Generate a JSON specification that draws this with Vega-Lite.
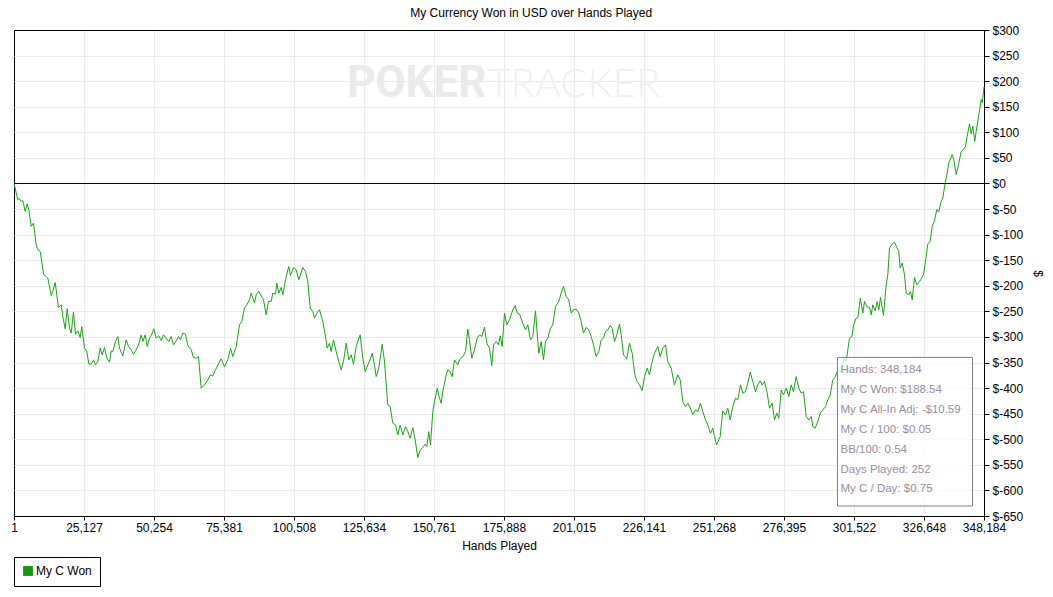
{
  "$schema": "https://vega.github.io/schema/vega-lite/v6.json",
  "width": 970,
  "height": 486,
  "autosize": {"type": "none"},
  "padding": {"left": 14, "top": 30, "right": 69, "bottom": 81},
  "background": "white",
  "title": {
    "text": "My Currency Won in USD over Hands Played",
    "font": "Liberation Sans",
    "fontSize": 12,
    "fontWeight": "normal",
    "color": "#000000",
    "anchor": "middle",
    "frame": "bounds",
    "offset": 4,
    "dx": 4
  },
  "layer": [
    {
      "data": {"values": [
        {"hands":1,"won":0},{"hands":1364,"won":-31.7},{"hands":1974,"won":-29.7},{"hands":2584,"won":-35.0},{"hands":3159,"won":-33.7},{"hands":4020,"won":-54.6},{"hands":4738,"won":-40.1},{"hands":5312,"won":-51.3},{"hands":6174,"won":-83.9},{"hands":7000,"won":-77.3},
        {"hands":7969,"won":-119.8},{"hands":8543,"won":-129.5},{"hands":9405,"won":-132.9},{"hands":10122,"won":-158.9},{"hands":10697,"won":-178.5},{"hands":11558,"won":-181.8},{"hands":12133,"won":-184.9},{"hands":13353,"won":-219.0},{"hands":13927,"won":-211.1},{"hands":14789,"won":-193.5},
        {"hands":15973,"won":-242.4},{"hands":16942,"won":-237.2},{"hands":17517,"won":-260.0},{"hands":18378,"won":-284.1},{"hands":19096,"won":-245.0},{"hands":19922,"won":-282.7},{"hands":20532,"won":-292.5},{"hands":21358,"won":-251.4},{"hands":22075,"won":-294.5},{"hands":22901,"won":-288.0},
        {"hands":23763,"won":-301.1},{"hands":24337,"won":-279.6},{"hands":25306,"won":-321.9},{"hands":26132,"won":-328.5},{"hands":26850,"won":-352.6},{"hands":27711,"won":-353.2},{"hands":28537,"won":-344.8},{"hands":29254,"won":-354.6},{"hands":30080,"won":-348.1},{"hands":30942,"won":-321.9},
        {"hands":31659,"won":-335.0},{"hands":32486,"won":-320.7},{"hands":33311,"won":-341.4},{"hands":34280,"won":-349.3},{"hands":34890,"won":-327.2},{"hands":35464,"won":-328.5},{"hands":36433,"won":-309.0},{"hands":37259,"won":-299.2},{"hands":37869,"won":-321.9},{"hands":39054,"won":-336.9},
        {"hands":40274,"won":-305.6},{"hands":41100,"won":-318.7},{"hands":42069,"won":-325.2},{"hands":42895,"won":-333.6},{"hands":43864,"won":-325.2},{"hands":44689,"won":-315.4},{"hands":45658,"won":-295.9},{"hands":46233,"won":-309.0},{"hands":47094,"won":-295.9},{"hands":47812,"won":-318.7},
        {"hands":48638,"won":-302.3},{"hands":49463,"won":-294.5},{"hands":50181,"won":-284.1},{"hands":51043,"won":-302.3},{"hands":51976,"won":-297.8},{"hands":52837,"won":-307.0},{"hands":53663,"won":-295.9},{"hands":54632,"won":-302.3},{"hands":55565,"won":-309.0},{"hands":56427,"won":-299.2},
        {"hands":57253,"won":-315.4},{"hands":58222,"won":-307.6},{"hands":59047,"won":-299.2},{"hands":59765,"won":-305.6},{"hands":60591,"won":-292.5},{"hands":61560,"won":-294.5},{"hands":62385,"won":-316.8},{"hands":63606,"won":-325.2},{"hands":64432,"won":-340.3},{"hands":65401,"won":-341.4},
        {"hands":66228,"won":-338.3},{"hands":67195,"won":-400.2},{"hands":68380,"won":-393.7},{"hands":69565,"won":-383.9},{"hands":70534,"won":-374.1},{"hands":71359,"won":-376.1},{"hands":72328,"won":-364.3},{"hands":73513,"won":-351.2},{"hands":74374,"won":-342.8},{"hands":75558,"won":-357.9},
        {"hands":76744,"won":-344.8},{"hands":77713,"won":-321.9},{"hands":78538,"won":-338.3},{"hands":79759,"won":-318.7},{"hands":80943,"won":-276.3},{"hands":81769,"won":-269.8},{"hands":82738,"won":-243.6},{"hands":83564,"won":-237.2},{"hands":84533,"won":-227.4},{"hands":85143,"won":-214.3},
        {"hands":86328,"won":-233.8},{"hands":86938,"won":-217.6},{"hands":87871,"won":-211.1},{"hands":89558,"won":-227.4},{"hands":90527,"won":-256.7},{"hands":91352,"won":-230.7},{"hands":92322,"won":-230.7},{"hands":92896,"won":-214.3},{"hands":93865,"won":-216.2},{"hands":94332,"won":-194.7},
        {"hands":95050,"won":-214.3},{"hands":95911,"won":-203.3},{"hands":96486,"won":-217.6},{"hands":97706,"won":-181.8},{"hands":98640,"won":-162.2},{"hands":99250,"won":-179.8},{"hands":100326,"won":-164.2},{"hands":101296,"won":-168.7},{"hands":102229,"won":-188.2},{"hands":103665,"won":-164.2},
        {"hands":104633,"won":-172.0},{"hands":105459,"won":-191.6},{"hands":106321,"won":-243.6},{"hands":107254,"won":-250.3},{"hands":107865,"won":-263.2},{"hands":108690,"won":-253.4},{"hands":109659,"won":-246.9},{"hands":110843,"won":-269.8},{"hands":111707,"won":-295.9},{"hands":112425,"won":-321.9},
        {"hands":113250,"won":-312.1},{"hands":113861,"won":-328.5},{"hands":114683,"won":-305.6},{"hands":115654,"won":-328.5},{"hands":116587,"won":-348.1},{"hands":117452,"won":-364.3},{"hands":118273,"won":-348.1},{"hands":119243,"won":-312.1},{"hands":120175,"won":-344.8},{"hands":121038,"won":-335.0},
        {"hands":121865,"won":-353.2},{"hands":122833,"won":-318.7},{"hands":123407,"won":-309.0},{"hands":124269,"won":-295.9},{"hands":125202,"won":-341.4},{"hands":126064,"won":-367.7},{"hands":126996,"won":-354.6},{"hands":127604,"won":-348.1},{"hands":128576,"won":-331.7},{"hands":129402,"won":-354.6},
        {"hands":130012,"won":-377.4},{"hands":130945,"won":-361.0},{"hands":132166,"won":-314.1},{"hands":132990,"won":-348.1},{"hands":134175,"won":-432.8},{"hands":135037,"won":-436.2},{"hands":135970,"won":-468.6},{"hands":136943,"won":-472.0},{"hands":137765,"won":-491.5},{"hands":138627,"won":-472.0},
        {"hands":139560,"won":-491.5},{"hands":140529,"won":-475.3},{"hands":141355,"won":-485.1},{"hands":142216,"won":-498.0},{"hands":143149,"won":-477.2},{"hands":144011,"won":-501.3},{"hands":144944,"won":-535.9},{"hands":145805,"won":-520.9},{"hands":146739,"won":-516.4},{"hands":147600,"won":-509.7},
        {"hands":148174,"won":-514.4},{"hands":148891,"won":-485.1},{"hands":149506,"won":-511.1},{"hands":150326,"won":-445.9},{"hands":150939,"won":-426.4},{"hands":151907,"won":-400.2},{"hands":152733,"won":-419.7},{"hands":153343,"won":-429.5},{"hands":153918,"won":-406.8},{"hands":155138,"won":-374.1},
        {"hands":155711,"won":-364.3},{"hands":156574,"won":-367.7},{"hands":157292,"won":-377.4},{"hands":158117,"won":-344.8},{"hands":159302,"won":-354.6},{"hands":159912,"won":-344.8},{"hands":161097,"won":-338.3},{"hands":162066,"won":-328.5},{"hands":162892,"won":-284.7},{"hands":163502,"won":-305.6},
        {"hands":164328,"won":-341.4},{"hands":165296,"won":-325.2},{"hands":166266,"won":-302.3},{"hands":167093,"won":-295.9},{"hands":167917,"won":-299.2},{"hands":168886,"won":-280.8},{"hands":169714,"won":-312.1},{"hands":170681,"won":-321.9},{"hands":171507,"won":-355.9},{"hands":172120,"won":-315.4},
        {"hands":173088,"won":-309.0},{"hands":173913,"won":-315.4},{"hands":174525,"won":-297.8},{"hands":175243,"won":-318.7},{"hands":176062,"won":-253.4},{"hands":176890,"won":-276.3},{"hands":177858,"won":-266.5},{"hands":179046,"won":-246.9},{"hands":179906,"won":-238.5},{"hands":180622,"won":-253.4},
        {"hands":181449,"won":-255.3},{"hands":182634,"won":-273.0},{"hands":183603,"won":-286.1},{"hands":184430,"won":-276.3},{"hands":185397,"won":-305.6},{"hands":186224,"won":-299.2},{"hands":187192,"won":-248.9},{"hands":188018,"won":-309.0},{"hands":188377,"won":-331.7},{"hands":189238,"won":-309.0},
        {"hands":190066,"won":-344.8},{"hands":190785,"won":-309.0},{"hands":191610,"won":-302.3},{"hands":192580,"won":-282.7},{"hands":193404,"won":-276.3},{"hands":194373,"won":-240.5},{"hands":195560,"won":-230.7},{"hands":196420,"won":-214.3},{"hands":197239,"won":-201.3},{"hands":198213,"won":-220.9},
        {"hands":199146,"won":-227.4},{"hands":200007,"won":-253.4},{"hands":200834,"won":-246.9},{"hands":201802,"won":-245.6},{"hands":202735,"won":-253.4},{"hands":203597,"won":-269.8},{"hands":204423,"won":-292.5},{"hands":205391,"won":-281.6},{"hands":206326,"won":-286.1},{"hands":207188,"won":-299.2},
        {"hands":208014,"won":-315.4},{"hands":208982,"won":-338.3},{"hands":209915,"won":-328.5},{"hands":210776,"won":-305.6},{"hands":211602,"won":-302.3},{"hands":212320,"won":-289.4},{"hands":213145,"won":-286.1},{"hands":214008,"won":-277.7},{"hands":214724,"won":-282.7},{"hands":215550,"won":-309.0},
        {"hands":216378,"won":-295.9},{"hands":217344,"won":-274.9},{"hands":217953,"won":-295.9},{"hands":218775,"won":-335.0},{"hands":219966,"won":-342.8},{"hands":220934,"won":-312.1},{"hands":221901,"won":-331.7},{"hands":222733,"won":-370.8},{"hands":223553,"won":-385.9},{"hands":224524,"won":-393.7},
        {"hands":225494,"won":-404.8},{"hands":226322,"won":-377.4},{"hands":227287,"won":-361.0},{"hands":228113,"won":-374.1},{"hands":228945,"won":-351.2},{"hands":229905,"won":-331.7},{"hands":231088,"won":-318.7},{"hands":231958,"won":-338.3},{"hands":232887,"won":-321.9},{"hands":233858,"won":-315.4},
        {"hands":234678,"won":-348.1},{"hands":235908,"won":-361.0},{"hands":237086,"won":-393.7},{"hands":238272,"won":-374.1},{"hands":239133,"won":-383.9},{"hands":240066,"won":-426.4},{"hands":241034,"won":-436.2},{"hands":241860,"won":-429.5},{"hands":242723,"won":-438.1},{"hands":243660,"won":-452.4},
        {"hands":244625,"won":-442.6},{"hands":245445,"won":-445.9},{"hands":246418,"won":-429.5},{"hands":247244,"won":-445.9},{"hands":248213,"won":-462.2},{"hands":249037,"won":-472.0},{"hands":250003,"won":-488.2},{"hands":250831,"won":-478.4},{"hands":251446,"won":-494.8},{"hands":252209,"won":-511.1},
        {"hands":253487,"won":-494.8},{"hands":254413,"won":-444.6},{"hands":255393,"won":-452.4},{"hands":256215,"won":-439.3},{"hands":257079,"won":-462.2},{"hands":258012,"won":-436.2},{"hands":258982,"won":-419.7},{"hands":259800,"won":-423.0},{"hands":260786,"won":-393.7},{"hands":261607,"won":-409.9},
        {"hands":262578,"won":-406.8},{"hands":263396,"won":-390.4},{"hands":264268,"won":-368.8},{"hands":265206,"won":-387.2},{"hands":266162,"won":-406.8},{"hands":266986,"won":-393.7},{"hands":267838,"won":-385.9},{"hands":268565,"won":-393.7},{"hands":269406,"won":-387.2},{"hands":270366,"won":-409.9},
        {"hands":271193,"won":-439.3},{"hands":272158,"won":-429.5},{"hands":272983,"won":-462.2},{"hands":273814,"won":-449.1},{"hands":274531,"won":-458.9},{"hands":275389,"won":-403.5},{"hands":276208,"won":-413.3},{"hands":277187,"won":-400.2},{"hands":278116,"won":-416.6},{"hands":278972,"won":-393.7},
        {"hands":279799,"won":-406.8},{"hands":280767,"won":-377.4},{"hands":281706,"won":-400.2},{"hands":282566,"won":-409.9},{"hands":283386,"won":-406.8},{"hands":284364,"won":-455.7},{"hands":285289,"won":-462.2},{"hands":286166,"won":-455.7},{"hands":286759,"won":-475.3},{"hands":287586,"won":-478.4},
        {"hands":288523,"won":-465.5},{"hands":289386,"won":-449.1},{"hands":290324,"won":-442.6},{"hands":291286,"won":-436.2},{"hands":292121,"won":-423.0},{"hands":292978,"won":-413.3},{"hands":293909,"won":-383.9},{"hands":294880,"won":-377.4},{"hands":295711,"won":-364.3},{"hands":296560,"won":-368.8},
        {"hands":297486,"won":-354.6},{"hands":298111,"won":-340.3},{"hands":298723,"won":-348.1},{"hands":299904,"won":-302.3},{"hands":300763,"won":-299.2},{"hands":301481,"won":-274.9},{"hands":302302,"won":-263.2},{"hands":302897,"won":-262.0},{"hands":303782,"won":-224.0},{"hands":304673,"won":-253.4},
        {"hands":305289,"won":-230.7},{"hands":306115,"won":-240.5},{"hands":307087,"won":-242.4},{"hands":307698,"won":-256.7},{"hands":308266,"won":-237.2},{"hands":309128,"won":-248.9},{"hands":309846,"won":-230.7},{"hands":310421,"won":-246.9},{"hands":311027,"won":-222.9},{"hands":312107,"won":-258.1},
        {"hands":313078,"won":-198.0},{"hands":313655,"won":-178.5},{"hands":314262,"won":-126.2},{"hands":315238,"won":-118.4},{"hands":316063,"won":-114.5},{"hands":316881,"won":-125.0},{"hands":317599,"won":-132.9},{"hands":318103,"won":-165.3},{"hands":318821,"won":-155.6},{"hands":319650,"won":-178.5},
        {"hands":320255,"won":-214.3},{"hands":321201,"won":-217.6},{"hands":321800,"won":-211.1},{"hands":322414,"won":-227.4},{"hands":323233,"won":-183.7},{"hands":324062,"won":-198.0},{"hands":325027,"won":-191.6},{"hands":325852,"won":-184.9},{"hands":326466,"won":-178.5},{"hands":327181,"won":-152.4},
        {"hands":328010,"won":-118.4},{"hands":328867,"won":-113.3},{"hands":329587,"won":-83.9},{"hands":330415,"won":-72.8},{"hands":331233,"won":-51.3},{"hands":331958,"won":-55.8},{"hands":332816,"won":-35.0},{"hands":333392,"won":-28.4},{"hands":334262,"won":1.0},{"hands":334989,"won":20.5},
        {"hands":335547,"won":40.1},{"hands":336774,"won":56.4},{"hands":337347,"won":46.6},{"hands":338203,"won":17.2},{"hands":339037,"won":36.8},{"hands":339996,"won":62.8},{"hands":340823,"won":66.1},{"hands":341542,"won":72.6},{"hands":342148,"won":92.2},{"hands":342977,"won":116.4},
        {"hands":343586,"won":96.9},{"hands":344164,"won":111.7},{"hands":344862,"won":82.4},{"hands":345385,"won":101.9},{"hands":345960,"won":121.5},{"hands":346620,"won":144.4},{"hands":347180,"won":164.0},{"hands":347540,"won":157.5},{"hands":348184,"won":188.54}
      ]},
      "mark": {"type": "line", "strokeWidth": 1, "interpolate": "linear"},
      "encoding": {
        "x": {
          "field": "hands",
          "type": "quantitative",
          "title": "Hands Played",
          "scale": {"domain": [1, 348184], "nice": false, "zero": false},
          "axis": {
            "values": [1, 25127, 50254, 75381, 100508, 125634, 150761, 175888, 201015, 226141, 251268, 276395, 301522, 326648, 348184],
            "tickCount": 30,
            "format": ",d",
            "grid": true,
            "gridColor": {"condition": {"test": "datum.value == 1", "value": "#000000"}, "value": "#ebebeb"},
            "labelFlush": false,
            "labelOverlap": false,
            "tickSize": 4,
            "labelPadding": 2,
            "titlePadding": 7
          }
        },
        "y": {
          "field": "won",
          "type": "quantitative",
          "title": "$",
          "scale": {"domain": [-650, 300], "nice": false, "zero": false},
          "axis": {
            "orient": "right",
            "values": [-650, -600, -550, -500, -450, -400, -350, -300, -250, -200, -150, -100, -50, 0, 50, 100, 150, 200, 250, 300],
            "tickCount": 40,
            "labelExpr": "'$' + datum.value",
            "grid": true,
            "gridColor": {"condition": {"test": "datum.value == 300", "value": "#000000"}, "value": "#ebebeb"},
            "tickSize": 5,
            "labelPadding": 3,
            "titlePadding": 8,
            "labelOverlap": false,
            "labelFlush": false
          }
        },
        "color": {
          "datum": "My C Won",
          "type": "nominal",
          "scale": {"range": ["#1aa31a"]},
          "legend": {
            "title": null,
            "orient": "none",
            "legendX": 0,
            "legendY": 527,
            "symbolType": "square",
            "symbolSize": 81,
            "strokeColor": "#000000",
            "padding": 8,
            "labelFont": "Liberation Sans",
            "labelFontSize": 12,
            "labelColor": "#000000",
            "labelOffset": 2,
            "encode": {
              "symbols": {
                "update": {
                  "fill": {"value": "#109a10"},
                  "stroke": {"value": "#000000"},
                  "strokeWidth": {"value": 1},
                  "opacity": {"value": 1}
                }
              }
            }
          }
        }
      }
    },
    {
      "data": {"values": [{}]},
      "mark": {"type": "rule", "color": "#000000", "strokeWidth": 1},
      "encoding": {"y": {"datum": 0, "type": "quantitative"}}
    },
    {
      "data": {"values": [{}]},
      "mark": {"type": "text", "text": "POKER", "font": "Roboto", "fontWeight": "bold", "fontSize": 44, "align": "right", "baseline": "alphabetic", "color": "#ebebeb"},
      "encoding": {
        "x": {"datum": 169600, "type": "quantitative"},
        "y": {"datum": 170, "type": "quantitative"}
      }
    },
    {
      "data": {"values": [{}]},
      "mark": {"type": "text", "text": "TRACKER", "font": "Lato", "fontWeight": 300, "fontSize": 40, "align": "left", "baseline": "alphabetic", "color": "#f0f0f0"},
      "encoding": {
        "x": {"datum": 169900, "type": "quantitative"},
        "y": {"datum": 170, "type": "quantitative"}
      }
    },
    {
      "data": {"values": [{}]},
      "mark": {"type": "rect", "fill": "white", "fillOpacity": 0.75, "stroke": "#808080", "strokeWidth": 1},
      "encoding": {
        "x": {"datum": 295590, "type": "quantitative"},
        "x2": {"datum": 344060},
        "y": {"datum": -340, "type": "quantitative"},
        "y2": {"datum": -630.5}
      }
    },
    {
      "data": {"values": [{}]},
      "mark": {"type": "text", "font": "Liberation Sans", "fontSize": 11.5, "align": "left", "baseline": "top", "lineHeight": 19.9, "color": "#978d9c"},
      "encoding": {
        "text": {"value": ["Hands: 348,184", "My C Won: $188.54", "My C All-In Adj: -$10.59", "My C / 100: $0.05", "BB/100: 0.54", "Days Played: 252", "My C / Day: $0.75"]},
        "x": {"datum": 296670, "type": "quantitative"},
        "y": {"datum": -353, "type": "quantitative"}
      }
    }
  ],
  "config": {
    "view": {"stroke": "#000000", "strokeWidth": 1},
    "axis": {
      "grid": true,
      "labelOverlap": false,
      "domainColor": "#000000",
      "tickColor": "#000000",
      "gridColor": "#ebebeb",
      "gridWidth": 1,
      "labelFont": "Liberation Sans",
      "labelFontSize": 12,
      "labelColor": "#000000",
      "titleFont": "Liberation Sans",
      "titleFontSize": 12,
      "titleFontWeight": "normal",
      "titleColor": "#000000"
    }
  }
}
